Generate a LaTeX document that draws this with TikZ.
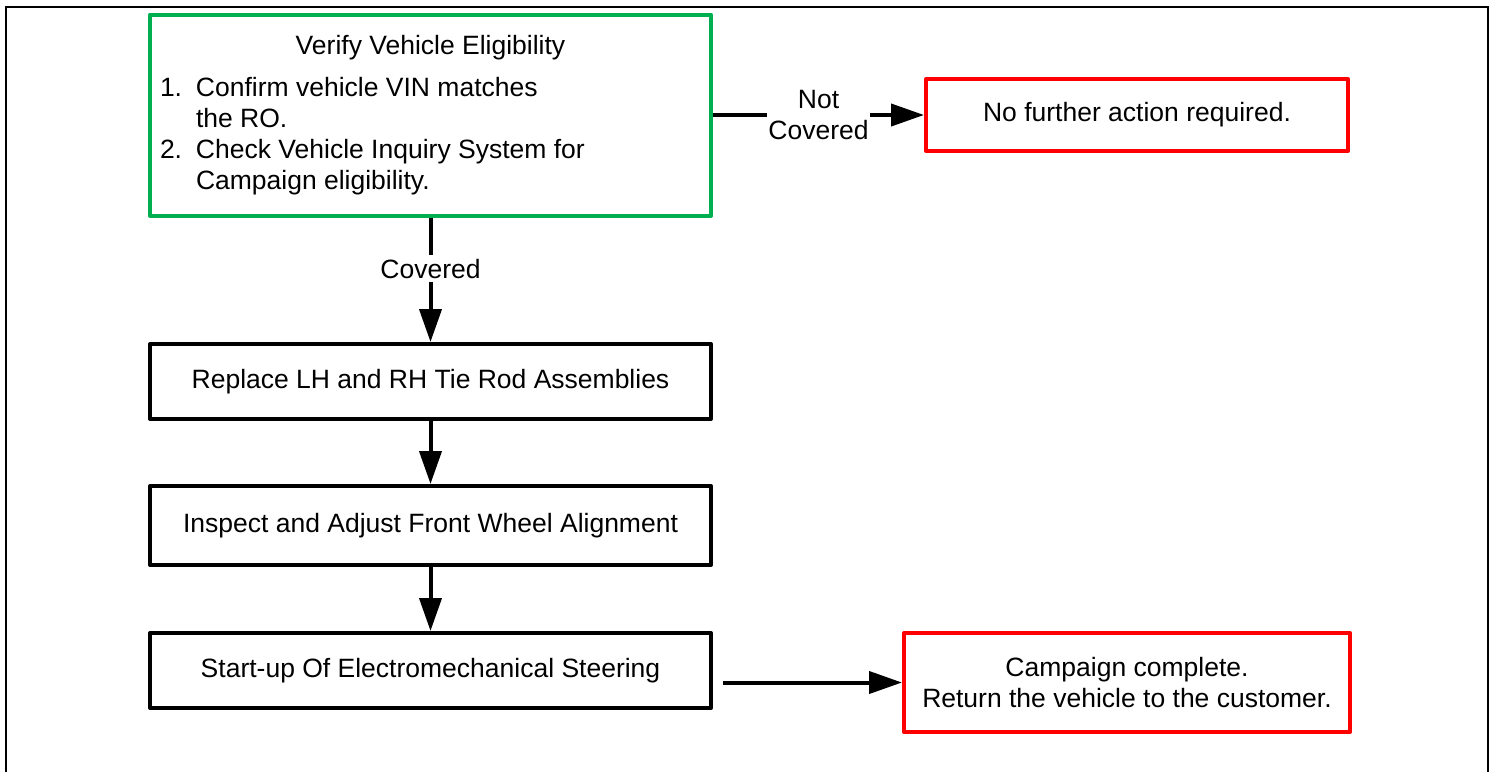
\documentclass[tikz,border=0pt]{standalone}
\usepackage{fontspec}
\setmainfont{Liberation Sans}
\usetikzlibrary{arrows.meta}
\definecolor{boxgreen}{RGB}{0,176,80}
\definecolor{boxred}{RGB}{255,0,0}
\newcommand{\itemnum}[1]{\makebox[36pt][l]{#1}}
\newcommand{\itemcont}{\hspace*{36pt}}
\begin{document}
\begin{tikzpicture}[x=1pt,y=-1pt,
  font=\fontsize{26.5}{31}\selectfont,
  box/.style={draw=black, line width=4pt, line join=round, inner sep=0pt,
    minimum width=561pt, minimum height=75pt, align=center},
  gbox/.style={box, draw=boxgreen, minimum height=201pt},
  rbox/.style={box, draw=boxred},
  conn/.style={line width=4pt, -{Triangle[length=33pt,width=22pt]}},
  lbl/.style={fill=white, inner xsep=1pt, inner ysep=4pt, align=center}]
\useasboundingbox (0,0) rectangle (1494,772);
% outer frame
\draw[line width=2pt] (6,772) -- (6,6.5) -- (1488,6.5) -- (1488,772);
% nodes
\node[gbox] (verify) at (430.5,115) {\parbox{541pt}{\centering Verify Vehicle Eligibility\par\vspace{11pt}%
\raggedright\itemnum{1.}Confirm vehicle VIN matches\\\itemcont the RO.\\
\itemnum{2.}Check Vehicle Inquiry System for\\\itemcont Campaign eligibility.\par}};
\node[rbox, minimum width=422pt, minimum height=72pt] (nofa) at (1137,115) {No further action required.};
\node[box] (replace) at (430.5,381.5) {Replace LH and RH Tie Rod Assemblies};
\node[box, minimum height=79pt] (inspect) at (430.5,525.5) {Inspect and Adjust Front Wheel Alignment};
\node[box] (startup) at (430.5,670.5) {Start-up Of Electromechanical Steering};
\node[rbox, minimum width=446pt, minimum height=99pt] (done) at (1127,682.5) {Campaign complete.\\Return the vehicle to the customer.};
% connectors
\draw[conn] (verify) -- node[lbl, pos=0.41] {Covered} (replace);
\draw[conn] (verify) -- node[lbl] {Not\\Covered} (nofa);
\draw[conn] (replace) -- (inspect);
\draw[conn] (inspect) -- (startup);
\coordinate (sstart) at ([xshift=10pt]startup.east |- done.west);
\draw[conn] (sstart) -- (done.west);
\end{tikzpicture}
\end{document}
